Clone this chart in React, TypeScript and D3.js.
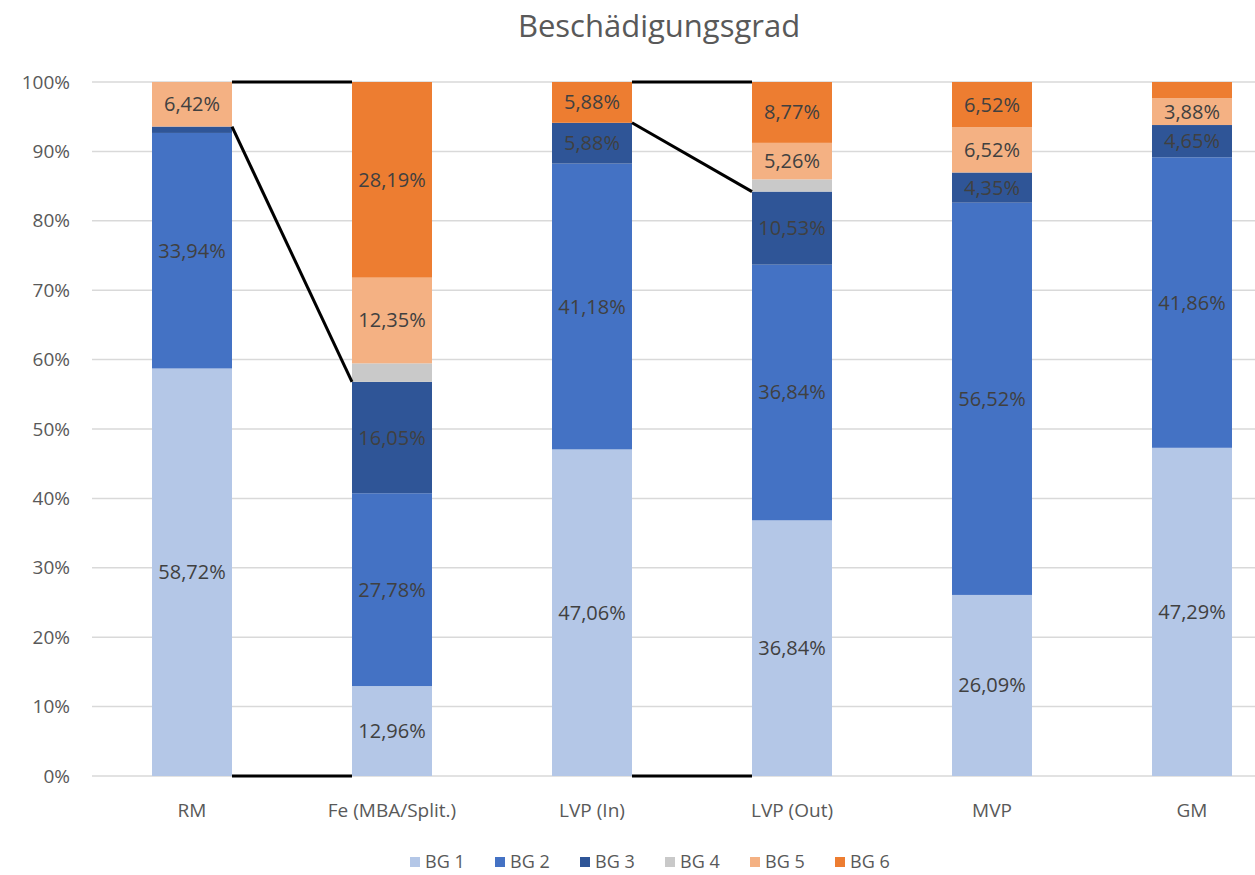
import { useEffect, useRef } from 'react'
import * as d3 from 'd3'

const categories = ['RM', 'Fe (MBA/Split.)', 'LVP (In)', 'LVP (Out)', 'MVP', 'GM']
const seriesNames = ['BG 1', 'BG 2', 'BG 3', 'BG 4', 'BG 5', 'BG 6']
const seriesColors = ['#b4c7e7', '#4472c4', '#2f5597', '#c9c9c9', '#f4b183', '#ed7d31']

const bg1 = [58.72, 12.96, 47.06, 36.84, 26.09, 47.29]
const bg2 = [33.94, 27.78, 41.18, 36.84, 56.52, 41.86]
const bg3 = [0.92, 16.05, 5.88, 10.53, 4.35, 4.65]
const bg4 = [0, 2.67, 0, 1.76, 0, 0]
const bg5 = [6.42, 12.35, 0, 5.26, 6.52, 3.88]
const bg6 = [0, 28.19, 5.88, 8.77, 6.52, 2.32]

const yTicks = [0, 10, 20, 30, 40, 50, 60, 70, 80, 90, 100]

// connector lines: [from category, to category]
const connectors = [
  ['RM', 'Fe (MBA/Split.)'],
  ['LVP (In)', 'LVP (Out)'],
]

const font = "'Open Sans', 'DejaVu Sans', sans-serif"

export default function App() {
  const ref = useRef<SVGSVGElement>(null)

  useEffect(() => {
    document.body.style.margin = '0'
    if (!ref.current) return
    const width = 1255, height = 875
    const margin = { top: 82, right: -37, bottom: 99, left: 92 }

    const svg = d3.select(ref.current)
    svg.selectAll('*').remove()

    const table = categories.map((c, i) => ({
      cat: c,
      'BG 1': bg1[i], 'BG 2': bg2[i], 'BG 3': bg3[i],
      'BG 4': bg4[i], 'BG 5': bg5[i], 'BG 6': bg6[i],
    }))
    const stacked = d3.stack<any>().keys(seriesNames)(table)

    const x = d3.scaleBand()
      .domain(categories)
      .range([margin.left, width - margin.right])
      .paddingInner(0.6)
      .paddingOuter(0.3)

    const y = d3.scaleLinear()
      .domain([0, 100])
      .range([height - margin.bottom, margin.top])

    const color = d3.scaleOrdinal<string>().domain(seriesNames).range(seriesColors)

    // title
    svg.append('text')
      .attr('x', 659).attr('y', 37)
      .attr('text-anchor', 'middle')
      .attr('fill', '#595959')
      .style('font-family', font).style('font-size', '31px')
      .text('Beschädigungsgrad')

    // grid
    svg.append('g')
      .selectAll('line')
      .data(yTicks)
      .join('line')
      .attr('x1', margin.left).attr('x2', width - margin.right)
      .attr('y1', d => y(d)).attr('y2', d => y(d))
      .attr('stroke', '#d9d9d9').attr('stroke-width', 1.5)

    // y labels
    svg.append('g')
      .selectAll('text')
      .data(yTicks)
      .join('text')
      .attr('x', 70).attr('y', d => y(d))
      .attr('dy', '0.35em')
      .attr('text-anchor', 'end')
      .attr('fill', '#595959')
      .style('font-family', font).style('font-size', '19px')
      .text(d => d + '%')

    // bars
    const layers = svg.append('g')
      .selectAll('g')
      .data(stacked)
      .join('g')
      .attr('fill', d => color(d.key))

    layers.selectAll('rect')
      .data(d => d.map(p => ({ p, key: d.key })))
      .join('rect')
      .attr('x', d => x(d.p.data.cat)!)
      .attr('width', x.bandwidth())
      .attr('y', d => y(d.p[1]))
      .attr('height', d => y(d.p[0]) - y(d.p[1]))

    // connector lines
    const conn = svg.append('g').attr('stroke', '#000').attr('stroke-width', 3).attr('fill', 'none')
    const bg3Stack = stacked[2]
    connectors.forEach(([a, b]) => {
      const ia = categories.indexOf(a), ib = categories.indexOf(b)
      const xa = x(a)! + x.bandwidth(), xb = x(b)!
      conn.append('line').attr('x1', xa).attr('x2', xb).attr('y1', y(100)).attr('y2', y(100))
      conn.append('line').attr('x1', xa).attr('x2', xb).attr('y1', y(0)).attr('y2', y(0))
      conn.append('line').attr('x1', xa).attr('x2', xb)
        .attr('y1', y(bg3Stack[ia][1])).attr('y2', y(bg3Stack[ib][1]))
    })

    // data labels
    const fmt = (v: number) => d3.format('.2f')(v).replace('.', ',') + '%'
    layers.selectAll('text')
      .data(d => d.map(p => ({ p, v: p[1] - p[0] })).filter(d => d.v >= 3))
      .join('text')
      .attr('x', d => x(d.p.data.cat)! + x.bandwidth() / 2)
      .attr('y', d => y((d.p[0] + d.p[1]) / 2))
      .attr('dy', '0.35em')
      .attr('text-anchor', 'middle')
      .attr('fill', '#404040')
      .style('font-family', font).style('font-size', '20px')
      .text(d => fmt(d.v))

    // x labels
    svg.append('g')
      .selectAll('text')
      .data(categories)
      .join('text')
      .attr('x', d => x(d)! + x.bandwidth() / 2)
      .attr('y', 810)
      .attr('dy', '0.35em')
      .attr('text-anchor', 'middle')
      .attr('fill', '#595959')
      .style('font-family', font).style('font-size', '19px')
      .text(d => d)

    // legend
    const legend = svg.append('g')
      .selectAll('g')
      .data(seriesNames)
      .join('g')
      .attr('transform', (d, i) => `translate(${410 + i * 85},862)`)
    legend.append('rect')
      .attr('x', 0).attr('y', -5).attr('width', 10).attr('height', 10)
      .attr('fill', d => color(d))
    legend.append('text')
      .attr('x', 15).attr('y', 0).attr('dy', '0.35em')
      .attr('fill', '#595959')
      .style('font-family', font).style('font-size', '18px')
      .text(d => d)
  }, [])

  return <svg ref={ref} width={1255} height={875} style={{ display: 'block', background: '#fff' }} />
}
